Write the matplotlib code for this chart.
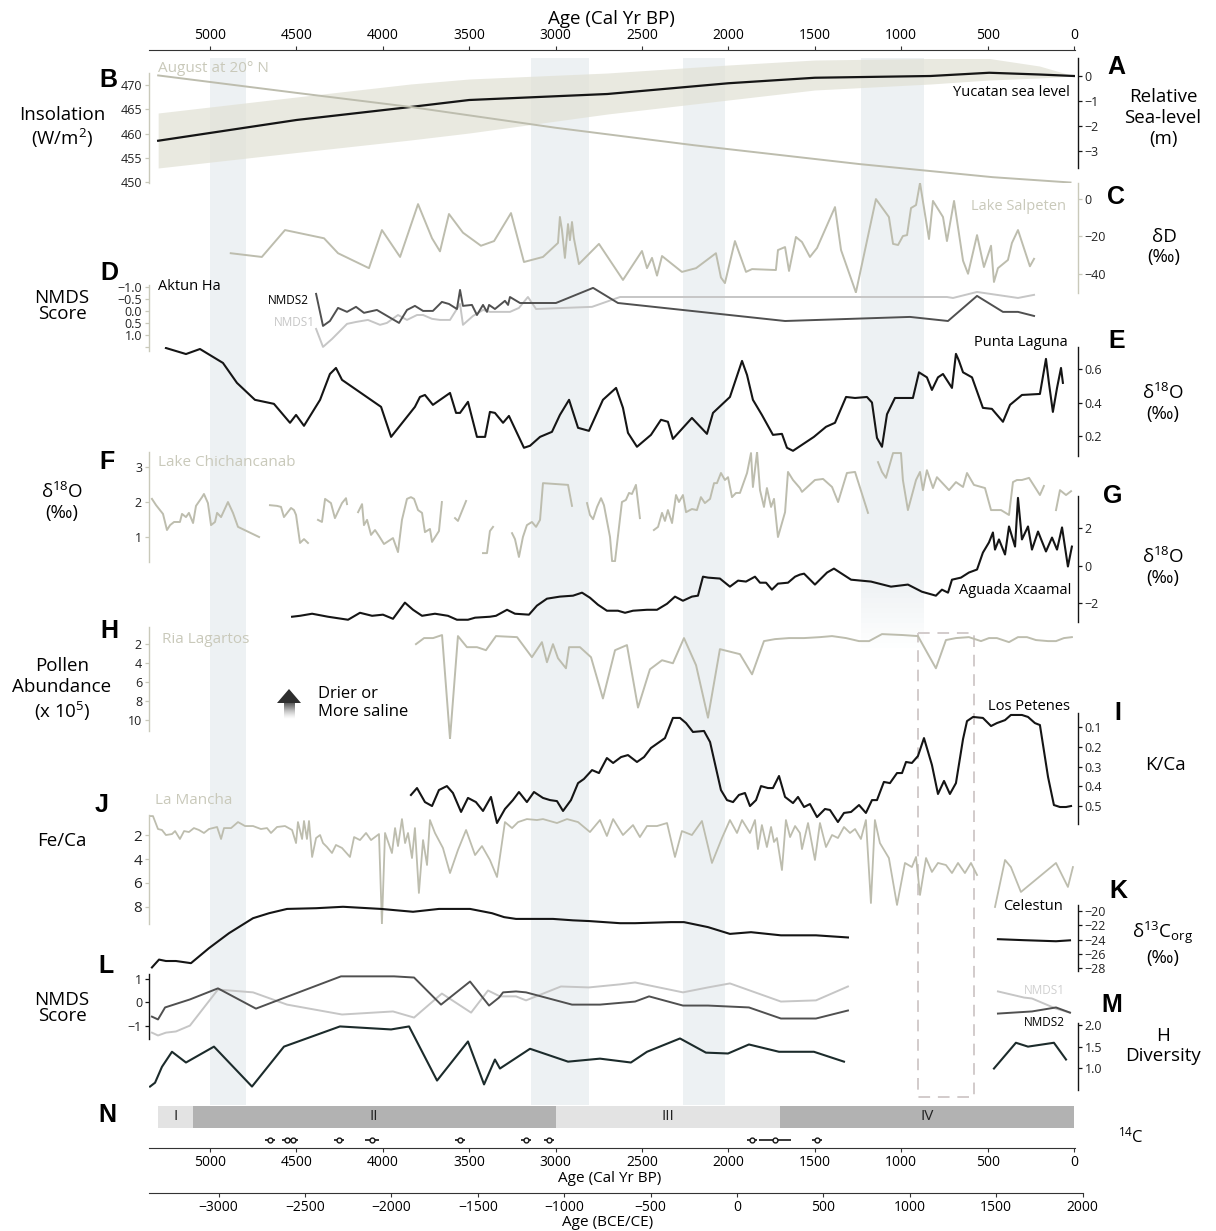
import numpy as np
import matplotlib
matplotlib.use("Agg")
import matplotlib.pyplot as plt

plt.rcParams['font.family'] = ['Open Sans', 'DejaVu Sans']
plt.rcParams['mathtext.fontset'] = 'custom'
plt.rcParams['mathtext.rm'] = 'Open Sans'
plt.rcParams['mathtext.default'] = 'regular'

nan = np.nan

# ---- data (ages in cal yr BP) ----
# A: Yucatan relative sea level (m)
sl_age = [5300, 4500, 3840, 3500, 2700, 2000, 1500, 830, 490, 200, 0]
sl_val = [-2.59, -1.76, -1.24, -0.96, -0.72, -0.29, -0.07, 0.0, 0.13, 0.06, 0.0]
sl_hi = [-1.48, -0.84, -0.32, -0.12, 0.12, 0.44, 0.64, 0.70, 0.70, 0.40, 0.0]
sl_lo = [-3.68, -3.06, -2.56, -2.28, -1.52, -0.96, -0.56, -0.32, -0.16, -0.08, 0.0]

# B: August insolation at 20N (W/m2)
ins_age = [5300, 4500, 3840, 3000, 2200, 1240, 470, 20]
ins_val = [472.0, 468.4, 465.5, 461.2, 457.6, 453.7, 451.0, 449.9]

# C: Lake Salpeten dD
salp_age = [4880, 4700, 4566, 4340, 4259, 4080, 4005, 3900, 3796, 3715, 3669, 3617, 3536,
            3432, 3356, 3258, 3183, 3073, 2986, 2975, 2963, 2946, 2928, 2917, 2905, 2894,
            2865, 2749, 2610, 2500, 2471, 2442, 2413, 2384, 2269, 2187, 2072, 2043, 2020,
            1962, 1898, 1863, 1725, 1713, 1672, 1649, 1609, 1574, 1528, 1487, 1383, 1348,
            1262, 1146, 1071, 1047, 1018, 990, 966, 943, 914, 891, 839, 816, 758, 735, 694,
            642, 613, 561, 521, 480, 463, 440, 382, 359, 324, 255, 231]
salp_val = [-29, -31, -16.6, -21, -29, -37, -16.6, -31, -2.7, -21, -28, -8, -18,
            -25, -22.5, -7.5, -33.7, -31, -23.5, -9.6, -16.6, -31.5, -13.4, -22, -12.3, -21,
            -34.8, -24, -43.3, -27.8, -37, -31.5, -41, -30.5, -39, -37, -29, -42, -45,
            -22.5, -39, -37.5, -38, -27.3, -25.7, -38.5, -20.3, -23, -31, -26.2, -4.3, -27.3,
            -50, 0, -9.6, -24, -24.6, -19.8, -19.3, -4.8, -3.2, 8.6, -21.4, -1, -9.6, -22.5, -1,
            -33, -40, -19.3, -36.4, -25, -44.4, -37, -32.6, -23.5, -16.6, -36, -32]

# D: Aktun Ha NMDS scores
akt_age = [4386, 4346, 4306, 4259, 4207, 4155, 4109, 4034, 3906, 3860, 3814, 3767, 3710,
           3658, 3617, 3571, 3553, 3536, 3484, 3455, 3420, 3397, 3385, 3351, 3293, 3275,
           3264, 3206, 2998, 2783, 2639, 1672, 949, 729, 561, 411, 324, 231]
akt_nmds2 = [-0.71, 0.625, 0.42, -0.125, 0.04, -0.17, 0.08, -0.04, 0.5, -0.04, -0.21, 0, 0,
             -0.375, -0.29, -0.08, -0.875, -0.21, -0.25, 0.17, -0.25, 0.04, -0.25, -0.08, -0.42, -0.25,
             -0.58, -0.33, -0.33, -0.96, -0.33, 0.42, 0.25, 0.42, -0.625, 0.04, 0.04, 0.21]
akt1_age = [4386, 4346, 4294, 4207, 4155, 4086, 4016, 3976, 3912, 3860, 3802, 3767, 3715,
            3669, 3611, 3553, 3536, 3478, 3420, 3380, 3322, 3264, 3212, 3160, 3113, 2789,
            2627, 735, 700, 561, 324, 231]
akt_nmds1 = [0.75, 1.5, 1.17, 0.54, 0.46, 0.375, 0.58, 0.5, 0.17, 0.375, 0.17, 0.17, 0.33,
             0.375, 0.375, -0.29, 0.58, 0.21, -0.04, 0.04, 0.04, 0.04, -0.125, -0.58, -0.08, -0.17,
             -0.58, -0.58, -0.54, -0.79, -0.54, -0.67]

# E: Punta Laguna d18O
pl_age = [5255, 5139, 5058, 4925, 4844, 4740, 4630, 4537, 4502, 4456, 4363, 4306, 4271, 4236,
          4010, 3952, 3814, 3785, 3756, 3710, 3611, 3576, 3553, 3507, 3455, 3408, 3380, 3351,
          3304, 3270, 3183, 3148, 3090, 3021, 2975, 2922, 2870, 2807, 2726, 2650, 2610, 2581,
          2529, 2448, 2390, 2350, 2321, 2211, 2124, 2089, 1991, 1921, 1892, 1858, 1806, 1742,
          1690, 1661, 1626, 1505, 1435, 1383, 1319, 1267, 1198, 1169, 1140, 1111, 1082, 1036,
          932, 897, 851, 822, 787, 758, 706, 683, 666, 642, 590, 527, 475, 411, 370, 301, 197,
          162, 145, 122, 98, 75, 64]
pl_val = [0.725, 0.689, 0.719, 0.636, 0.517, 0.416, 0.392, 0.279, 0.326, 0.261, 0.416, 0.570, 0.606, 0.535,
          0.374, 0.195, 0.374, 0.433, 0.445, 0.386, 0.457, 0.338, 0.338, 0.404, 0.195, 0.195, 0.344, 0.338,
          0.279, 0.320, 0.130, 0.142, 0.195, 0.225, 0.326, 0.416, 0.249, 0.231, 0.416, 0.487, 0.368, 0.219,
          0.136, 0.207, 0.297, 0.285, 0.183, 0.308, 0.213, 0.338, 0.433, 0.648, 0.564, 0.416, 0.326, 0.207,
          0.213, 0.130, 0.112, 0.195, 0.255, 0.279, 0.433, 0.427, 0.433, 0.40, 0.189, 0.136, 0.33, 0.427,
          0.427, 0.58, 0.55, 0.475, 0.55, 0.57, 0.487, 0.69, 0.65, 0.58, 0.55, 0.368, 0.362, 0.285, 0.386, 0.445, 0.451,
          0.66, 0.517, 0.344, 0.487, 0.606, 0.517]

# F: Lake Chichancanab d18O (nan = gap)
chi_age = [5336, 5312, 5272, 5249, 5231, 5208, 5174, 5162, 5139, 5122, 5098, 5081, 5046, 5035,
           5012, 4994, 4971, 4959, 4936, 4896, 4867, 4838, 4716, 4700,
           4653, 4612, 4589, 4572, 4531, 4514, 4502, 4479, 4456, 4433, 4420,
           4375, 4352, 4334, 4300, 4277, 4236, 4213, 4207, 4190,
           4143, 4120, 4109, 4091, 4068, 4045, 4022, 3993, 3941, 3912, 3889, 3860, 3837, 3819,
           3796, 3773, 3756, 3727, 3715, 3675, 3658, 3640,
           3582, 3565, 3518, 3500,
           3420, 3397, 3380, 3362, 3340,
           3252, 3235, 3212, 3189, 3166, 3137, 3113, 3090, 3073, 2928, 2905, 2880,
           2818, 2801, 2783, 2760, 2737, 2720, 2685, 2673, 2656, 2616, 2593, 2575, 2558, 2535,
           2512, 2490,
           2431, 2407, 2384, 2367, 2350, 2326, 2303, 2286, 2263, 2245, 2211, 2182, 2159, 2136,
           2106, 2083, 2066, 2043, 2020, 2002, 1979, 1956, 1933, 1892, 1869, 1858, 1834, 1817,
           1794, 1777, 1753, 1736, 1713, 1672, 1655, 1626, 1586, 1574, 1499, 1452, 1400, 1365,
           1314, 1267, 1192, 1160,
           1134, 1111, 1088, 1047, 1001, 990, 961, 914, 891, 874, 851, 816, 793, 723, 683, 642,
           619, 579, 515, 480, 422, 376, 353, 330, 301, 260, 197, 174, 140,
           104, 81, 46, 17]
chi_val = [2.09, 1.91, 1.66, 1.2, 1.34, 1.43, 1.43, 1.66, 1.57, 1.69, 1.4, 1.89, 2.14, 2.23,
           1.97, 1.34, 1.43, 1.69, 1.57, 2.0, 1.69, 1.29, 1.0, nan,
           1.91, 1.89, 1.86, 1.57, 1.83, 1.77, 1.63, 0.83, 0.94, 0.83, nan,
           1.49, 1.43, 2.09, 1.97, 1.54, 1.97, 2.11, 1.94, nan,
           1.71, 1.94, 1.34, 1.49, 1.06, 1.2, 1.03, 0.8, 0.97, 0.57, 1.49, 2.09, 2.14, 2.09,
           1.77, 1.69, 1.14, 1.23, 0.86, 1.17, 2.0, nan,
           1.54, 1.46, 2.03, nan,
           0.54, 0.54, 1.17, 1.29, nan,
           1.11, 0.94, 0.43, 1.0, 1.34, 1.43, 1.29, 1.49, 2.54, 2.49, 1.89, nan,
           1.97, 1.63, 1.51, 1.86, 2.11, 1.91, 1.0, 0.31, 0.31, 2.0, 2.06, 2.26, 2.23, 2.49,
           1.54, nan,
           1.2, 1.29, 1.69, 1.46, 1.77, 1.4, 2.2, 2.0, 2.2, 1.71, 1.8, 1.77, 2.14, 1.97,
           2.09, 2.54, 2.54, 2.83, 2.63, 2.71, 2.14, 2.26, 2.26, 2.83, 3.4, 2.43, 3.43, 2.34,
           1.86, 2.4, 1.86, 2.09, 1.0, 1.71, 2.86, 2.63, 2.4, 2.29, 2.63, 2.66, 2.43, 2.0,
           2.83, 2.86, 1.69, nan,
           3.14, 2.86, 2.69, 3.4, 3.4, 2.63, 1.77, 2.63, 2.86, 2.34, 2.91, 2.4, 2.71, 2.34, 2.57, 2.43,
           2.83, 2.49, 2.4, 1.77, 1.77, 1.63, 2.57, 2.63, 2.63, 2.69, 2.2, 2.46, nan,
           1.77, 2.34, 2.2, 2.31]

# G: Aguada Xcaamal d18O
xca_age = [4525, 4479, 4409, 4317, 4201, 4132, 4062, 3999, 3941, 3872, 3825, 3773, 3698, 3623,
           3571, 3507, 3466, 3380, 3345, 3281, 3235, 3154, 3108, 3050, 2975, 2899, 2847, 2801,
           2755, 2703, 2639, 2598, 2552, 2471, 2413, 2355, 2309, 2263, 2211, 2176, 2147, 2118,
           2049, 1991, 1944, 1898, 1846, 1817, 1782, 1748, 1713, 1655, 1614, 1586, 1562, 1499,
           1429, 1389, 1354, 1290, 1175, 1059, 961, 880, 799, 764, 729, 706, 654, 608, 561, 527,
           492, 469, 457, 434, 399, 376, 341, 324, 301, 266, 243, 208, 162, 127, 98, 69, 35, 12]
xca_val = [-2.72, -2.67, -2.56, -2.72, -2.88, -2.51, -2.67, -2.61, -2.83, -1.97, -2.35, -2.67, -2.56, -2.67,
           -2.88, -2.88, -2.77, -2.72, -2.67, -2.35, -2.56, -2.61, -2.13, -1.76, -1.65, -1.6, -1.44, -1.71,
           -2.08, -2.4, -2.4, -2.51, -2.4, -2.35, -2.35, -2.03, -1.65, -1.87, -1.65, -1.6, -0.59, -0.64,
           -0.69, -1.12, -0.8, -0.85, -0.59, -0.91, -0.91, -1.28, -0.96, -0.91, -0.59, -0.48, -0.43, -1.01,
           -0.37, -0.16, -0.37, -0.75, -0.85, -1.12, -1.01, -1.39, -1.6, -1.28, -1.44, -0.75, -0.64, -0.37, -0.21, 0.69,
           1.23, 1.76, 0.85, 1.39, 0.59, 2.08, 1.01, 3.6, 1.39, 2.08, 0.85, 1.81, 0.75, 1.49, 0.85, 2.03, -0.05, 1.01]

# H: Ria Lagartos pollen abundance (x 10^5)
ria_age = [3808, 3761, 3709, 3657, 3611, 3565, 3513, 3455, 3403, 3345, 3223, 3137, 3079, 3050,
           3015, 2986, 2940, 2922, 2859, 2795, 2726, 2656, 2587, 2523, 2454, 2384, 2321, 2257,
           2187, 2118, 2049, 1933, 1863, 1794, 1730, 1649, 1562, 1470, 1400, 1319, 1244, 1186,
           1111, 990, 903, 799, 741, 683, 608, 538, 492, 446, 376, 324, 272, 220, 150, 104, 58, 12]
ria_val = [2.0, 1.36, 1.36, 1.04, 12.0, 1.15, 2.32, 2.32, 2.64, 1.15, 1.26, 3.38, 1.79, 3.91,
           2.0, 3.49, 4.55, 2.32, 2.32, 3.38, 7.74, 2.64, 2.1, 8.7, 4.66, 3.7, 4.02, 1.36,
           4.23, 9.77, 2.53, 3.06, 5.19, 1.68, 1.47, 1.36, 1.36, 1.26, 1.15, 1.36, 1.68, 1.68,
           0.94, 1.04, 1.15, 4.55, 1.57, 1.36, 1.26, 1.68, 1.36, 1.36, 1.79, 1.26, 1.26, 1.57, 1.68, 1.68, 1.36, 1.26]

# I: Los Petenes K/Ca
lp_age = [3837, 3802, 3756, 3715, 3675, 3629, 3594, 3547, 3507, 3461, 3420, 3374, 3339, 3293,
          3247, 3212, 3166, 3125, 3073, 3032, 2992, 2957, 2911, 2870, 2836, 2789, 2749, 2703,
          2667, 2621, 2581, 2529, 2488, 2448, 2367, 2321, 2280, 2245, 2205, 2141, 2106, 2043,
          2008, 1973, 1939, 1904, 1875, 1840, 1811, 1771, 1742, 1707, 1672, 1626, 1597, 1562,
          1528, 1487, 1441, 1412, 1366, 1331, 1290, 1244, 1204, 1169, 1140, 1100, 1065, 1024,
          995, 972, 938, 903, 868, 822, 787, 752, 718, 683, 642, 619, 584, 527, 480, 446, 399,
          365, 301, 266, 226, 197, 150, 116, 81, 46, 17]
lp_val = [0.444, 0.409, 0.48, 0.5, 0.419, 0.399, 0.434, 0.53, 0.459, 0.48, 0.525, 0.454, 0.586, 0.515,
          0.47, 0.429, 0.48, 0.429, 0.459, 0.47, 0.475, 0.525, 0.47, 0.384, 0.363, 0.318, 0.333, 0.257,
          0.282, 0.252, 0.242, 0.277, 0.252, 0.206, 0.156, 0.054, 0.054, 0.08, 0.125, 0.12, 0.176, 0.419,
          0.47, 0.48, 0.444, 0.434, 0.5, 0.47, 0.399, 0.409, 0.409, 0.348, 0.454, 0.485, 0.454, 0.505,
          0.49, 0.556, 0.515, 0.52, 0.581, 0.535, 0.53, 0.495, 0.535, 0.47, 0.47, 0.378, 0.384, 0.333,
          0.333, 0.277, 0.282, 0.247, 0.156, 0.292, 0.439, 0.373, 0.439, 0.384, 0.161, 0.07, 0.049, 0.054, 0.095, 0.08, 0.065,
          0.039, 0.039, 0.049, 0.08, 0.09, 0.353, 0.495, 0.505, 0.505, 0.5]

# J: La Mancha Fe/Ca
lm_age = [5347, 5330, 5301, 5278, 5255, 5220, 5202, 5174, 5150, 5122, 5093, 5064, 5035, 5006,
          4959, 4936, 4919, 4878, 4838, 4797, 4751, 4705, 4670, 4647, 4612, 4566, 4525, 4502,
          4491, 4467, 4456, 4439, 4427, 4409, 4386, 4363, 4346, 4323, 4294, 4271, 4236, 4190,
          4166, 4132, 4097, 4068, 4022, 4005, 3987, 3947, 3929, 3912, 3889, 3871, 3854, 3831,
          3814, 3791, 3767, 3744, 3727, 3698, 3652, 3611, 3565, 3518, 3466, 3426, 3380, 3339,
          3293, 3252, 3217, 3166, 3108, 3073, 2992, 2934, 2870, 2801, 2743, 2703, 2667, 2610,
          2552, 2512, 2471, 2413, 2355, 2309, 2269, 2211, 2153, 2095, 2037, 1991, 1950, 1921,
          1875, 1846, 1829, 1806, 1777, 1753, 1736, 1719, 1690, 1667, 1643, 1614, 1586, 1574,
          1539, 1499, 1470, 1435, 1400, 1366, 1331, 1296, 1267, 1233, 1204, 1175, 1152, 1123,
          1071, 1024, 978, 938, 914, 891, 856, 822, 787, 741, 706, 671, 631, 596, 561, 520,
          457, 399, 365, 307, 104, 35, 6]
lm_val = [0.42, 0.42, 1.5, 1.58, 2.0, 1.92, 1.67, 2.33, 1.67, 1.75, 1.42, 1.58, 1.83, 1.5,
          1.33, 2.33, 1.42, 1.42, 0.92, 1.25, 1.25, 1.5, 1.42, 1.83, 1.33, 1.25, 1.58, 2.67,
          0.92, 2.33, 0.83, 2.33, 0.83, 3.83, 2.25, 2.0, 2.67, 3.0, 3.5, 2.83, 3.08, 3.83,
          2.17, 2.42, 1.83, 2.42, 1.92, 9.42, 1.83, 3.5, 1.42, 2.92, 0.67, 2.67, 1.83, 3.92,
          1.42, 6.83, 2.42, 4.5, 0.75, 1.83, 3.08, 5.17, 3.25, 1.58, 3.67, 2.92, 4.08, 5.5,
          0.92, 1.42, 0.92, 0.67, 0.75, 0.67, 1.0, 0.67, 0.92, 1.75, 0.75, 2.08, 0.67, 2.0,
          1.17, 2.17, 1.25, 1.25, 1.0, 3.83, 1.67, 2.0, 0.83, 4.33, 2.25, 0.75, 1.83, 0.75,
          1.83, 0.75, 3.17, 1.17, 3.0, 1.33, 2.58, 2.25, 4.92, 0.75, 2.17, 1.25, 1.83, 3.17,
          1.0, 4.08, 1.0, 3.0, 2.0, 2.25, 1.33, 1.83, 1.5, 2.33, 0.75, 7.67, 0.75, 2.67,
          3.92, 7.83, 4.33, 4.67, 3.83, 7.0, 3.92, 5.08, 4.33, 4.5, 5.17, 4.33, 5.17, 4.33, 5.33, nan,
          8.0, 4.08, 4.67, 6.75, 4.33, 6.33, 4.67]

# K: Celestun d13C org
cel_age = [5336, 5295, 5255, 5197, 5110, 5006, 4890, 4751, 4658, 4554, 4386, 4230, 4010, 3825,
           3675, 3495, 3368, 3298, 3229, 3015, 2899, 2807, 2627, 2540, 2332, 2257, 2118, 1991,
           1869, 1696, 1493, 1308, 900, 440, 289, 104, 23]
cel_val = [-27.9, -26.8, -27.0, -27.0, -27.3, -25.2, -23.1, -21.0, -20.3, -19.7, -19.6, -19.4, -19.7, -20.1,
           -19.7, -19.7, -20.3, -20.85, -21.1, -21.1, -21.3, -21.4, -21.7, -21.7, -21.55, -21.55, -22.25, -23.2,
           -22.96, -23.4, -23.4, -23.7, nan, -23.94, -24.08, -24.23, -24.1]

# L: Celestun NMDS scores
cn_age = [5336, 5301, 5260, 5116, 4954, 4734, 4566, 4242, 3935, 3819, 3663, 3495, 3385, 3327,
          3304, 3229, 3171, 2905, 2743, 2540, 2459, 2263, 2118, 1881, 1696, 1493, 1308, 900,
          440, 243, 104, 23]
cn_nmds2 = [-0.6, -0.72, -0.21, 0.13, 0.6, -0.26, 0.21, 1.11, 1.11, 1.06, -0.09, 0.89, -0.13, 0.21,
            0.43, 0.47, 0.43, -0.09, -0.09, 0.04, 0.26, -0.13, -0.13, -0.21, -0.68, -0.68, -0.34, nan,
            -0.47, -0.38, -0.21, -0.43]
cn1_age = [5336, 5301, 5255, 5197, 5116, 4954, 4751, 4554, 4236, 3941, 3819, 3658, 3489, 3391,
           3322, 3229, 3171, 2969, 2807, 2627, 2540, 2263, 2118, 1991, 1696, 1493, 1308, 900,
           440, 289, 243, 104, 23]
cn_nmds1 = [-1.28, -1.4, -1.28, -1.23, -0.98, 0.55, 0.43, -0.09, -0.51, -0.38, -0.64, 0.38, -0.43, 0.51,
            0.26, 0.26, 0.09, 0.68, 0.64, 0.77, 0.85, 0.43, 0.64, 0.81, 0.04, 0.09, 0.68, nan,
            0.47, 0.21, 0.17, -0.26, -0.43]

# M: H diversity
div_age = [5347, 5318, 5278, 5220, 5139, 4977, 4757, 4572, 4248, 3952, 3848, 3686, 3507, 3414,
           3351, 3322, 3148, 2928, 2743, 2564, 2471, 2280, 2130, 2002, 1881, 1707, 1505, 1331,
           900, 463, 336, 266, 116, 46]
div_val = [0.57, 0.66, 1.03, 1.38, 1.13, 1.5, 0.57, 1.5, 1.97, 1.9, 1.97, 0.71, 1.62, 0.62,
           1.2, 0.99, 1.45, 1.15, 1.22, 1.13, 1.38, 1.69, 1.36, 1.34, 1.55, 1.38, 1.38, 1.15,
           nan, 0.99, 1.59, 1.5, 1.59, 1.2]

# N: zones and 14C dates
zone_edges = [5300, 5100, 3000, 1700, 0]
zone_names = ['I', 'II', 'III', 'IV']
c14_age = [4653, 4554, 4519, 4253, 4062, 3553, 3171, 3038, 1863, 1730, 1487]
c14_err = [30, 30, 30, 30, 40, 30, 30, 30, 30, 90, 30]

# shaded intervals and dashed box
bands = [(5000, 4790), (3140, 2805), (2260, 2020), (1235, 870)]
highlight = (903, 579)

# ---- layout helpers (pixel based) ----
W, H = 1216, 1231
XLIM = (5353, -6)
BLACK = '#151515'
TAN = '#bdbdae'
TAN_SPINE = '#c9c9ba'
LIGHT = '#c6c6c6'
DARK = '#505050'

fig = plt.figure(figsize=(W / 100, H / 100), dpi=100)


def box(top, bottom, x0=149, x1=1075):
    return [x0 / W, 1 - bottom / H, (x1 - x0) / W, (bottom - top) / H]


def label(x, y, s, **kw):
    kw.setdefault('ha', 'center')
    kw.setdefault('va', 'center')
    fig.text(x / W, 1 - y / H, s, **kw)


def letter(x, y, s):
    label(x, y, s, fontsize=18, fontweight='bold', family='Liberation Sans')


def panel(top, bottom, ylim, side, ticks, ticklabels=None, color=BLACK, fs=9):
    ax = fig.add_axes(box(top, bottom))
    ax.set_xlim(XLIM)
    ax.set_ylim(ylim)
    ax.patch.set_alpha(0)
    for s in ['top', 'bottom', 'left', 'right']:
        ax.spines[s].set_visible(s == side)
    ax.spines[side].set_color(color)
    ax.spines[side].set_linewidth(1.0)
    ax.xaxis.set_visible(False)
    if side == 'right':
        ax.yaxis.tick_right()
        ax.spines['right'].set_position(('outward', 2))
    ax.set_yticks(ticks)
    if ticklabels is not None:
        ax.set_yticklabels(ticklabels)
    ax.tick_params(axis='y', length=3, width=0.9, color=color, labelcolor='#222222',
                   labelsize=fs, pad=2)
    return ax


# ---- background: shaded intervals ----
axbg = fig.add_axes(box(0, H))
axbg.set_xlim(XLIM)
axbg.set_ylim(H, 0)
axbg.axis('off')
for a0, a1 in bands[:3]:
    axbg.fill_between([a0, a1], 58, 1105, color='#edf1f3', lw=0)
a0, a1 = bands[3]
axbg.fill_between([a0, a1], 58, 578, color='#edf1f3', lw=0)
for k in range(14):
    axbg.fill_between([a0, a1], 578 + k * 5, 583 + k * 5, color='#edf1f3',
                      alpha=1 - (k + 1) / 15, lw=0)
h0, h1 = highlight
axbg.plot([h0, h1, h1, h0, h0], [633, 633, 1097, 1097, 633], ls=(0, (6, 4)),
          color='#d2cbcb', lw=1.4)

# ---- top axis ----
axt = fig.add_axes(box(50, 57))
axt.set_xlim(XLIM)
axt.patch.set_alpha(0)
for s in ['bottom', 'left', 'right']:
    axt.spines[s].set_visible(False)
axt.spines['top'].set_color('#333333')
axt.xaxis.tick_top()
axt.set_xticks(range(0, 5001, 500))
axt.set_yticks([])
axt.tick_params(axis='x', length=3, labelsize=10, pad=2, color='#333333')
label(611, 19, 'Age (Cal Yr BP)', fontsize=13.5)

# ---- A: sea level ----
axA = panel(58, 168, (-3.68, 0.72), 'right', [0, -1, -2, -3])
axA.fill_between(sl_age, sl_lo, sl_hi, color='#e2e2d6', alpha=0.75, lw=0)
axA.plot(sl_age, sl_val, color=BLACK, lw=1.6)
label(1070, 92, 'Yucatan sea level', fontsize=10.5, ha='right')
letter(1116, 67, 'A')
label(1163, 118, 'Relative\nSea-level\n(m)', fontsize=13.5)

# ---- B: insolation ----
axB = panel(73, 183, (449.8, 472.5), 'left', [450, 455, 460, 465, 470], color=TAN_SPINE)
axB.plot(ins_age, ins_val, color=TAN, lw=1.4)
label(158, 68, 'August at 20° N', fontsize=11, ha='left', color=TAN_SPINE)
letter(108, 80, 'B')
label(62, 128, 'Insolation\n(W/m$^{2}$)', fontsize=13.5)

# ---- C: Lake Salpeten ----
axC = panel(183, 293, (-50.3, 8.6), 'right', [0, -20, -40], color=TAN_SPINE)
axC.plot(salp_age, salp_val, color=TAN, lw=1.4)
label(1066, 206, 'Lake Salpeten', fontsize=10.5, ha='right', color=TAN_SPINE)
letter(1116, 197, 'C')
label(1164, 247, 'δD\n(‰)', fontsize=13.5)

# ---- D: Aktun Ha NMDS ----
axD = panel(285, 351, (1.67, -1.08), 'left', [-1.0, -0.5, 0.0, 0.5, 1.0, 1.5],
            ['−1.0', '−0.5', '0.0', '0.5', '1.0', ''], color=TAN_SPINE)
axD.plot(akt1_age, akt_nmds1, color=LIGHT, lw=1.4)
axD.plot(akt_age, akt_nmds2, color=DARK, lw=1.4)
label(158, 287, 'Aktun Ha', fontsize=10.5, ha='left')
label(288, 300, 'NMDS2', fontsize=8.5)
label(294, 323, 'NMDS1', fontsize=8.5, color=LIGHT)
letter(109, 273, 'D')
label(62, 306, 'NMDS\nScore', fontsize=13.5, linespacing=0.8)

# ---- E: Punta Laguna ----
axE = panel(347, 456, (0.081, 0.731), 'right', [0.2, 0.4, 0.6])
axE.plot(pl_age, pl_val, color=BLACK, lw=1.5)
label(1068, 342, 'Punta Laguna', fontsize=10.5, ha='right')
letter(1117, 341, 'E')
label(1163, 403, 'δ$^{18}$O\n(‰)', fontsize=13.5)

# ---- F: Lake Chichancanab ----
axF = panel(452, 562, (0.286, 3.43), 'left', [1, 2, 3], color=TAN_SPINE)
axF.plot(chi_age, chi_val, color=TAN, lw=1.4)
label(158, 463, 'Lake Chichancanab', fontsize=11, ha='left', color=TAN_SPINE)
letter(107, 462, 'F')
label(62, 502, 'δ$^{18}$O\n(‰)', fontsize=13.5)

# ---- G: Aguada Xcaamal ----
axG = panel(496, 622, (-3.0, 3.7), 'right', [-2, 0, 2])
axG.plot(xca_age, xca_val, color=BLACK, lw=1.5)
label(1071, 591, 'Aguada Xcaamal', fontsize=10.5, ha='right')
letter(1113, 496, 'G')
label(1163, 567, 'δ$^{18}$O\n(‰)', fontsize=13.5)

# ---- H: Ria Lagartos ----
axH = panel(627, 739, (12.02, 0.19), 'left', [2, 4, 6, 8, 10], color=TAN_SPINE)
axH.spines['left'].set_bounds(0.19, 11.2)
axH.plot(ria_age, ria_val, color=TAN, lw=1.4)
label(162, 640, 'Ria Lagartos', fontsize=11, ha='left', color=TAN_SPINE)
letter(109, 631, 'H')
label(62, 690, 'Pollen\nAbundance\n(x 10$^{5}$)', fontsize=13.5)
label(318, 703, 'Drier or\nMore saline', fontsize=12, ha='left')

# ---- I: Los Petenes ----
axI = panel(713, 824, (0.591, 0.029), 'right', [0.1, 0.2, 0.3, 0.4, 0.5])
axI.plot(lp_age, lp_val, color=BLACK, lw=1.5)
label(1070, 706, 'Los Petenes', fontsize=10.5, ha='right')
letter(1118, 713, 'I')
label(1165, 765, 'K/Ca', fontsize=13.5)

# ---- J: La Mancha ----
axJ = panel(815, 924, (9.42, 0.33), 'left', [2, 4, 6, 8], color=TAN_SPINE, fs=11)
axJ.plot(lm_age, lm_val, color=TAN, lw=1.3)
label(155, 800, 'La Mancha', fontsize=11, ha='left', color=TAN_SPINE)
letter(102, 805, 'J')
label(62, 841, 'Fe/Ca', fontsize=13.5)

# ---- K: Celestun d13C ----
axK = panel(905, 971, (-28.4, -19.15), 'right', [-20, -22, -24, -26, -28])
axK.plot(cel_age, cel_val, color=BLACK, lw=1.5)
label(1033, 907, 'Celestun', fontsize=10.5)
letter(1118, 891, 'K')
label(1163, 943, 'δ$^{13}$C$_{org}$\n(‰)', fontsize=13.5)

# ---- L: Celestun NMDS ----
axL = panel(974, 1039, (-1.55, 1.21), 'left', [-1, 0, 1], ['−1', '0', '1'])
axL.plot(cn1_age, cn_nmds1, color=LIGHT, lw=1.4)
axL.plot(cn_age, cn_nmds2, color=DARK, lw=1.4)
label(1044, 991, 'NMDS1', fontsize=8.5, color='#d0d0d0')
label(1044, 1022, 'NMDS2', fontsize=8.5)
letter(106, 966, 'L')
label(62, 1008, 'NMDS\nScore', fontsize=13.5, linespacing=0.8)

# ---- M: H diversity ----
axM = panel(1023, 1090, (0.49, 2.05), 'right', [1.0, 1.5, 2.0], ['1.0', '1.5', '2.0'])
axM.plot(div_age, div_val, color='#1c2b2b', lw=1.5)
letter(1112, 1005, 'M')
label(1163, 1046, 'H\nDiversity', fontsize=13.5)

# ---- N: zones and 14C dates ----
axN = fig.add_axes(box(1106, 1128))
axN.set_xlim(XLIM)
axN.set_ylim(0, 1)
axN.axis('off')
zone_cols = ['#e3e3e3', '#b2b2b2', '#e3e3e3', '#b2b2b2']
for i, name in enumerate(zone_names):
    left, right = zone_edges[i], zone_edges[i + 1]
    axN.barh(0.5, right - left, left=left, height=1, color=zone_cols[i], lw=0)
    axN.text((left + right) / 2, 0.5, name, ha='center', va='center', fontsize=11,
             color='#222222')
letter(107, 1115, 'N')

axC14 = fig.add_axes(box(1132, 1148))
axC14.set_xlim(XLIM)
axC14.set_ylim(0, 1)
axC14.axis('off')
axC14.errorbar(c14_age, [0.5] * len(c14_age), xerr=c14_err, fmt='o', ms=3.5, mfc='white',
               mec=BLACK, mew=1, ecolor=BLACK, elinewidth=1.2, capsize=0)
label(1131, 1136, '$^{14}$C', fontsize=12)

# ---- bottom axes ----
axb = fig.add_axes(box(1140, 1148))
axb.set_xlim(XLIM)
axb.patch.set_alpha(0)
for s in ['top', 'left', 'right']:
    axb.spines[s].set_visible(False)
axb.spines['bottom'].set_color('#333333')
axb.set_xticks(range(0, 5001, 500))
axb.set_yticks([])
axb.tick_params(axis='x', length=3, labelsize=10, pad=2, color='#333333')
label(610, 1178, 'Age (Cal Yr BP)', fontsize=11)

axc = fig.add_axes(box(1185, 1193, x1=1083))
axc.set_xlim(1950 - XLIM[0], 2002)
axc.patch.set_alpha(0)
for s in ['top', 'left', 'right']:
    axc.spines[s].set_visible(False)
axc.spines['bottom'].set_color('#333333')
axc.set_xticks(range(-3000, 2001, 500))
axc.set_yticks([])
axc.tick_params(axis='x', length=3, labelsize=10, pad=2, color='#333333')
label(608, 1222, 'Age (BCE/CE)', fontsize=11)

# ---- overlay: arrow ----
axpx = fig.add_axes([0, 0, 1, 1])
axpx.set_xlim(0, W)
axpx.set_ylim(H, 0)
axpx.axis('off')
grad = np.linspace(0.75, 0.0, 40).reshape(-1, 1)
axpx.imshow(grad, extent=(284, 295, 719, 702), cmap='Greys', vmin=0, vmax=1,
            aspect='auto', origin='upper')
axpx.fill([277, 301, 289], [703, 703, 689], color='#2e2e2e', lw=0)
axpx.set_xlim(0, W)
axpx.set_ylim(H, 0)

fig.savefig('out.png', dpi=100)
